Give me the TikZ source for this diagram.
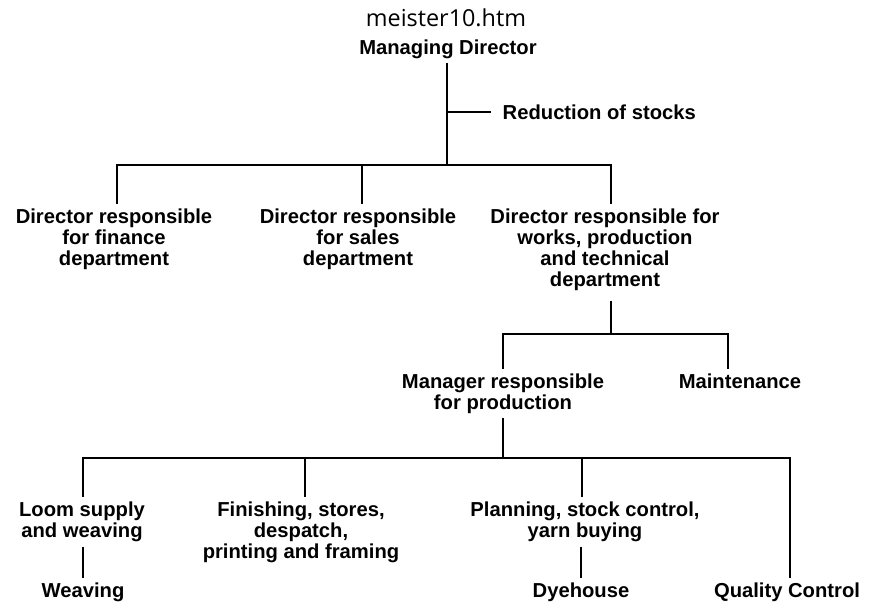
\documentclass[tikz,border=0pt]{standalone}
\usepackage{fontspec}
\setmainfont{Liberation Sans}
\newfontfamily\titlefont{Open Sans}
\usetikzlibrary{positioning}

\begin{document}
\begin{tikzpicture}[x=0.02cm,y=-0.02cm,
  unit/.style={font=\fontsize{11.5}{12}\selectfont\bfseries, align=center, inner sep=2.5pt, anchor=north},
  link/.style={line width=1.4pt}]

\useasboundingbox (0,0) rectangle (869,602);

% Title
\node[font=\titlefont\fontsize{13.3}{15}\selectfont] (title) at (446,18) {meister10.htm};

% Top
\node[unit] (md) at (448,35) {Managing Director};
\node[unit, anchor=west] (red) at (498,112) {Reduction of stocks};

% Directors
\node[unit] (fin) at (114,204) {Director responsible\\for finance\\department};
\node[unit] (sal) at (358,204) {Director responsible\\for sales\\department};
\node[unit] (wrk) at (605,204) {Director responsible for\\works, production\\and technical\\department};

% Production level
\node[unit] (mgr) at (503,369) {Manager responsible\\for production};
\node[unit] (mnt) at (740,369) {Maintenance};

% Works
\node[unit] (loom) at (82,497) {Loom supply\\and weaving};
\node[unit] (fsh) at (301,497) {Finishing, stores,\\despatch,\\printing and framing};
\node[unit] (pln) at (585,497) {Planning, stock control,\\yarn buying};
\node[unit] (wev) at (83,578) {Weaving};
\node[unit] (dye) at (581,578) {Dyehouse};
\node[unit] (qc) at (787,578) {Quality Control};

% Junctions
\coordinate (r1) at (447,112);
\coordinate (b1) at (447,165);
\coordinate (b1l) at (117,165);
\coordinate (b1m) at (362,165);
\coordinate (b1r) at (611,165);
\coordinate (b2) at (611,334);
\coordinate (b2l) at (503,334);
\coordinate (b2r) at (728,334);
\coordinate (b3) at (503,458);
\coordinate (b3a) at (83,458);
\coordinate (b3b) at (305,458);
\coordinate (b3c) at (582,458);
\coordinate (b3d) at (790,458);

% Managing director
\draw[link] (md.south -| b1) -- (b1);
\draw[link, shorten >=4pt] (r1) -- (r1 -| red.west);
\draw[link] (b1l |- fin.north) -- (b1l) -- (b1r) -- (b1r |- wrk.north);
\draw[link] (b1m) -- (b1m |- sal.north);

% Works director
\draw[link, shorten <=3pt] (b2 |- wrk.south) -- (b2);
\draw[link] (b2l |- mgr.north) -- (b2l) -- (b2r) -- (b2r |- mnt.north);

% Production manager
\draw[link] (mgr.south) -- (b3);
\draw[link] (b3a |- loom.north) -- (b3a) -- (b3d) -- (b3d |- qc.north);
\draw[link] (b3b) -- (b3b |- fsh.north);
\draw[link] (b3c) -- (b3c |- pln.north);
\draw[link] (loom.south -| wev.north) -- (wev.north);
\draw[link] (pln.south -| dye.north) -- (dye.north);

\end{tikzpicture}
\end{document}
